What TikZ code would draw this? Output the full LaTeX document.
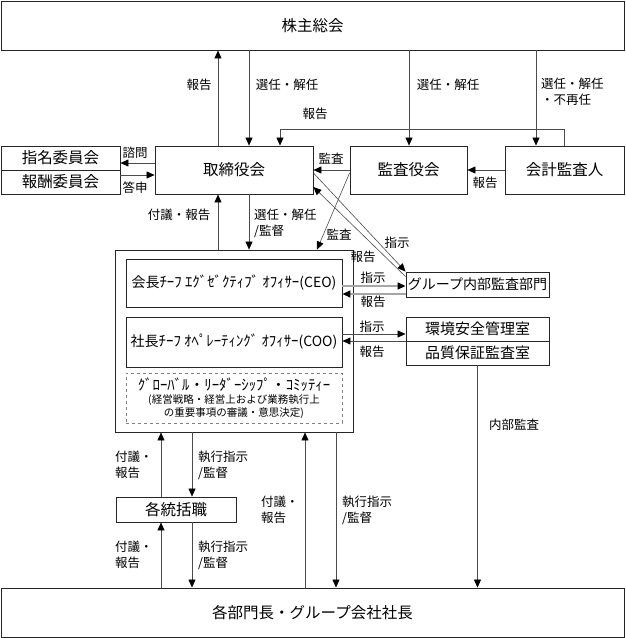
\documentclass[tikz,border=0pt]{standalone}
\usepackage{fontspec}
\setmainfont{Noto Sans CJK JP}
\usetikzlibrary{arrows.meta}
\newcommand{\hkana}[1]{{\fontsize{14.8}{17}\selectfont #1}}
\tikzset{
  box/.style={draw=black!85, line width=0.9pt, inner sep=0pt, font=\fontsize{15.5}{18}\selectfont},
  lbl/.style={inner sep=0pt, align=left, font=\fontsize{12.5}{16}\selectfont},
  arr/.style={draw=black!70, line width=0.6pt, -{Triangle[length=8pt,width=7pt,color=black]}},
  grayarr/.style={draw=black!35, line width=1.6pt, -{Triangle[length=8pt,width=7pt,color=black]}}
}
\begin{document}
\begin{tikzpicture}[x=1pt,y=-1pt]
\useasboundingbox (0,0) rectangle (625,638);
\node[box, minimum width=623pt, minimum height=49pt] (kabu) at (312.5,25.5) {株主総会};
\node[box, minimum width=119pt, minimum height=24pt] (shimei) at (60.5,158) {指名委員会};
\node[box, minimum width=119pt, minimum height=24pt] (hoshu) at (60.5,182) {報酬委員会};
\node[box, minimum width=158pt, minimum height=48pt] (tori) at (234,170) {取締役会};
\node[box, minimum width=117pt, minimum height=48pt] (kansa) at (408.5,170) {監査役会};
\node[box, minimum width=119pt, minimum height=48pt] (kaikei) at (564.5,170) {会計監査人};
\node[box, minimum width=238pt, minimum height=182pt] (exec) at (234,341) {};
\node[box, minimum width=216pt, minimum height=48pt, font=\fontsize{14}{17}\selectfont] (ceo) at (234,283) {会長\hkana{ﾁｰﾌ ｴｸﾞｾﾞｸﾃｨﾌﾞ ｵﾌｨｻｰ}(CEO)};
\node[box, minimum width=216pt, minimum height=50pt, font=\fontsize{14}{17}\selectfont] (coo) at (234,342) {社長\hkana{ﾁｰﾌ ｵﾍﾟﾚｰﾃｨﾝｸﾞ ｵﾌｨｻｰ}(COO)};
\node[box, draw=black!50, line width=0.5pt, dashed, minimum width=216pt, minimum height=50pt, align=center, font=\fontsize{10.5}{13}\selectfont] (glc) at (234,398) {\hkana{ｸﾞﾛｰﾊﾞﾙ・ﾘｰﾀﾞｰｼｯﾌﾟ・ｺﾐｯﾃｨｰ}\\(経営戦略・経営上および業務執行上\\の重要事項の審議・意思決定)};
\node[box, minimum width=143pt, minimum height=25pt, font=\fontsize{14}{17}\selectfont] (group) at (477.5,284.5) {グループ内部監査部門};
\node[box, minimum width=143pt, minimum height=24pt, font=\fontsize{15}{17}\selectfont] (kankyo) at (477.5,329) {環境安全管理室};
\node[box, minimum width=143pt, minimum height=24pt, font=\fontsize{15}{17}\selectfont] (hinshitsu) at (477.5,353) {品質保証監査室};
\node[box, minimum width=120pt, minimum height=25pt] (tokatsu) at (176,509.5) {各統括職};
\node[box, minimum width=623pt, minimum height=49pt] (bucho) at (312.5,612.5) {各部門長・グループ会社社長};

\coordinate (xa) at (218,0);
\coordinate (xb) at (249,0);
\coordinate (xc) at (409,0);
\coordinate (xd) at (536,0);
\coordinate (xe) at (280,0);
\coordinate (xf) at (161,0);
\coordinate (xg) at (192,0);
\coordinate (xh) at (305,0);
\coordinate (xi) at (336,0);
\coordinate (xk) at (317,0);
\coordinate (ye) at (0,129);
\coordinate (ya) at (0,163);
\coordinate (yb) at (0,175);
\coordinate (yc) at (0,286);
\coordinate (yd) at (0,294);
\coordinate (yf) at (0,334);
\coordinate (yg) at (0,341);

\draw[arr] (xa |- tori.north) -- (xa |- kabu.south);
\draw[arr] (xb |- kabu.south) -- (xb |- tori.north);
\draw[arr] (xc |- kabu.south) -- (xc |- kansa.north);
\draw[arr] (xd |- kabu.south) -- (xd |- kaikei.north);
\draw[arr] (kaikei.north) -- (kaikei.north |- ye) -- (xe |- ye) -- (xe |- tori.north);
\draw[arr] (tori.west |- ya) -- (shimei.east |- ya);
\draw[arr] (hoshu.east |- yb) -- (tori.west |- yb);
\draw[arr] (kansa) -- (tori);
\draw[arr] (kaikei) -- (kansa);
\draw[arr] (xa |- exec.north) -- (xa |- tori.south);
\draw[arr] (xb |- tori.south) -- (xb |- exec.north);
\draw[arr] ([yshift=-3pt]kansa.west) -- (exec.north -| xk);
\draw[arr] ([yshift=-3pt]tori.east) -- (group.north west);
\draw[arr] ([yshift=-5pt]group.north west) -- ([yshift=-17pt]tori.east);
\draw[grayarr] (ceo.east |- yc) -- (group.west |- yc);
\draw[grayarr] (group.west |- yd) -- (ceo.east |- yd);
\draw[arr] (coo.east |- yf) -- (kankyo.west |- yf);
\draw[arr] (kankyo.west |- yg) -- (coo.east |- yg);
\draw[arr] (hinshitsu.south) -- (hinshitsu.south |- bucho.north);
\draw[arr] (xf |- tokatsu.north) -- (xf |- exec.south);
\draw[arr] (xg |- exec.south) -- (xg |- tokatsu.north);
\draw[arr] (xf |- bucho.north) -- (xf |- tokatsu.south);
\draw[arr] (xg |- tokatsu.south) -- (xg |- bucho.north);
\draw[arr] (xh |- bucho.north) -- (xh |- exec.south);
\draw[arr] (xi |- exec.south) -- (xi |- bucho.north);

\node[lbl] (rep1) at (199,85) {報告};
\node[lbl] (sen1) at (287,85) {選任・解任};
\node[lbl] (sen2) at (448,85) {選任・解任};
\node[lbl, anchor=west] (sen3) at (541,92) {選任・解任\\・不再任};
\node[lbl] (rep2) at (315,114) {報告};
\node[lbl] (shimon) at (135,153) {諮問};
\node[lbl] (toshin) at (135,188) {答申};
\node[lbl] (aud1) at (331,159) {監査};
\node[lbl] (rep3) at (485,183) {報告};
\node[lbl] (fugi1) at (179,215) {付議・報告};
\node[lbl, anchor=west] (sen4) at (254,223) {選任・解任\\/監督};
\node[lbl] (aud2) at (339,235) {監査};
\node[lbl] (ins1) at (397,243) {指示};
\node[lbl] (rep4) at (363,257) {報告};
\node[lbl] (ins2) at (373,278) {指示};
\node[lbl] (rep5) at (373,302) {報告};
\node[lbl] (ins3) at (372,327) {指示};
\node[lbl] (rep6) at (372,352) {報告};
\node[lbl] (naibu) at (514,425) {内部監査};
\node[lbl, anchor=west] (fugi2) at (115,465) {付議・\\報告};
\node[lbl, anchor=west] (shiko1) at (198,465) {執行指示\\/監督};
\node[lbl, anchor=west] (fugi3) at (115,555) {付議・\\報告};
\node[lbl, anchor=west] (shiko2) at (198,555) {執行指示\\/監督};
\node[lbl, anchor=west] (fugi4) at (261,510) {付議・\\報告};
\node[lbl, anchor=west] (shiko3) at (342,510) {執行指示\\/監督};
\end{tikzpicture}
\end{document}
